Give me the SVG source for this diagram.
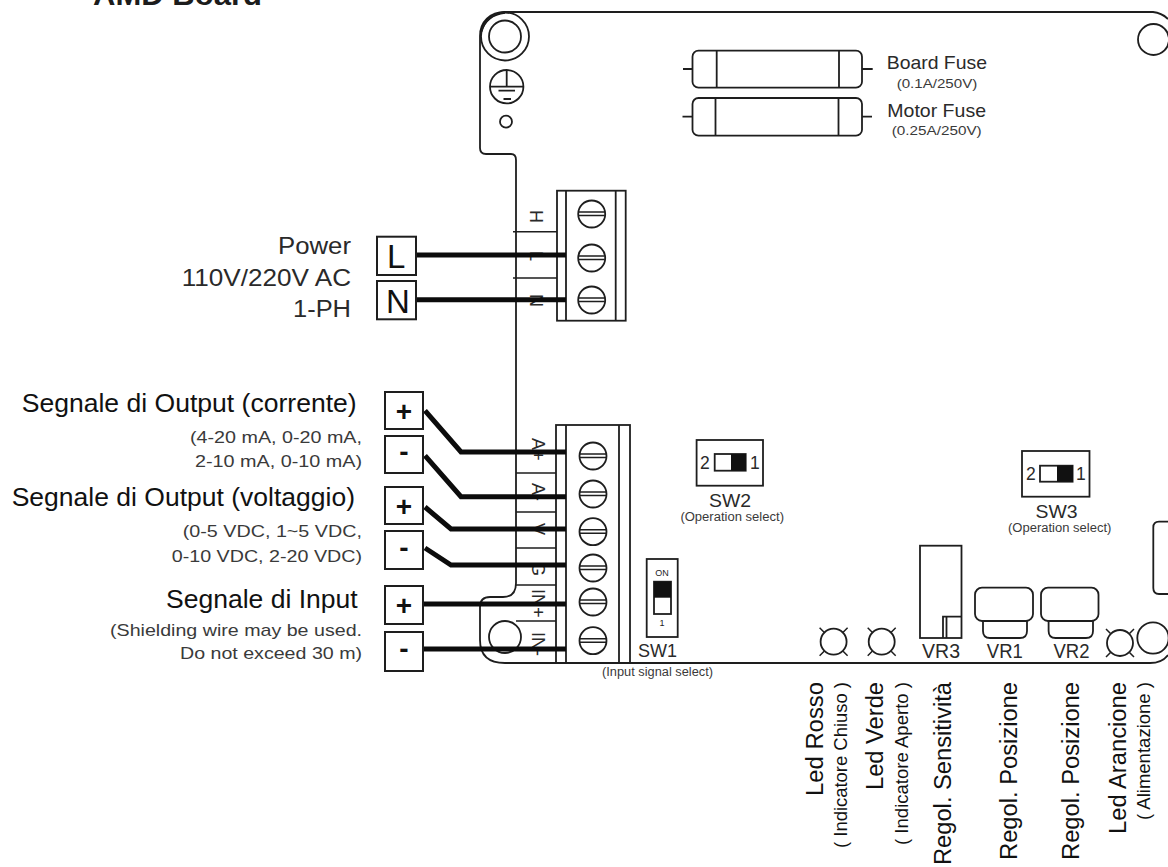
<svg xmlns="http://www.w3.org/2000/svg" width="1168" height="867" viewBox="0 0 1168 867">
<style>
text{font-family:"Liberation Sans",Arial,sans-serif;fill:#1c1c1c}
.l{fill:none;stroke:#1e1e1e;stroke-width:1.8}
.t{fill:none;stroke:#1e1e1e;stroke-width:1.5}
.w{fill:none;stroke:#0c0c0c;stroke-width:5}
.b{fill:#fff;stroke:#1e1e1e;stroke-width:2}
.k{fill:#111}
.h{font-size:25.5px;fill:#111}
.s{font-size:17px;fill:#3a3a3a}
.p{font-size:24.500px;fill:#2a2a2a}
.f{font-size:19px;fill:#2a2a2a}
.fs{font-size:12px;fill:#3a3a3a}
.sw{font-size:17.500px;fill:#2a2a2a}
.vr{font-size:19.500px;fill:#2a2a2a}
.r{font-size:23.500px;fill:#111}
.rs{font-size:18.500px;fill:#111}
.m{font-size:18px;fill:#2a2a2a}
.c{text-anchor:middle}
.pm{font-size:28px;font-weight:700;text-anchor:middle;fill:#111}
.big{font-size:33px;fill:#111}
</style>
<defs>
<g id="screw"><circle class="l" r="13.5"/><path class="t" d="M-13-2H13M-13 1.5H13"/></g>
<g id="led"><circle class="l" r="13"/><path class="t" d="M-9.500-9.500L-14-14M9.500-9.500L14-14M-9.500 9.500L-14 14M9.500 9.500L14 14"/></g>
</defs>
<rect width="1168" height="867" fill="#fff"/>
<text id="title" x="93" y="5" font-size="30" font-weight="700" textLength="169" lengthAdjust="spacingAndGlyphs">AMD Board</text>

<g id="board">
<path class="l" d="M505 12C490 12 480 22 480 36V148Q480 154 486 154H511Q516 154 516 160V583Q516 597 503 597H490Q480 597 480 607V640Q480 663 505 663H1150Q1162 663 1168 655"/>
<path class="l" d="M505 12H1153Q1162 13 1168 19"/>
<path d="M481 32C484 21 492 14 505 12.500" fill="none" stroke="#111" stroke-width="2.500"/>
</g>
<g id="mount-holes">
<circle class="l" cx="505" cy="36.500" r="24"/><circle class="l" cx="505" cy="36.500" r="16"/>
<circle class="l" cx="505" cy="637" r="16"/>
<circle class="l" cx="1153.500" cy="39.500" r="15.500"/>
<circle class="l" cx="1153" cy="638" r="15.700"/>
</g>
<g id="ground">
<circle class="l" cx="506.700" cy="86.700" r="16.700"/>
<path class="l" d="M506.700 70V86.700M490 86.700H523.400M498.500 90.700H515M503.500 99H511"/>
<circle class="l" cx="506" cy="121.700" r="6"/>
</g>

<g id="board-fuse">
<rect class="l" x="692.500" y="50.700" width="169.500" height="37" rx="6"/>
<path class="l" d="M716.700 50.700V87.700M839 50.700V87.700M683 69H692.500M862 69H872.700"/>
<text class="f" x="886.700" y="68.700" textLength="100.300" lengthAdjust="spacingAndGlyphs">Board Fuse</text>
<text class="fs" x="896.700" y="88" textLength="80.600" lengthAdjust="spacingAndGlyphs">(0.1A/250V)</text>
</g>
<g id="motor-fuse">
<rect class="l" x="692.500" y="98" width="169.500" height="37.700" rx="6"/>
<path class="l" d="M715.500 98V135.700M838.500 98V135.700M682.500 116.700H692.500M862 116.700H872"/>
<text class="f" x="887.300" y="116.700" textLength="98.700" lengthAdjust="spacingAndGlyphs">Motor Fuse</text>
<text class="fs" x="891.700" y="135" textLength="90" lengthAdjust="spacingAndGlyphs">(0.25A/250V)</text>
</g>

<g id="terminal-power">
<rect class="l" x="557" y="190.700" width="68.700" height="130"/>
<path class="l" d="M566 190.700V320.700M615.700 190.700V320.700"/>
<path class="t" d="M513 231.700H557M513 278H557"/>
<use href="#screw" x="591.700" y="214"/><use href="#screw" x="591.700" y="258"/><use href="#screw" x="591.700" y="300"/>
<text class="m" transform="translate(530 210) rotate(90)">H</text>
<text class="m" transform="translate(530 251) rotate(90)">L</text>
<text class="m" transform="translate(530 294) rotate(90)">N</text>
</g>

<g id="terminal-signal">
<rect class="l" x="556" y="425" width="74" height="238"/>
<path class="l" d="M566 425V663M619 425V663"/>
<path class="t" d="M516 473H556M516 512H556M516 548H556M516 585H556M516 621H556"/>
<use href="#screw" x="593" y="456"/><use href="#screw" x="593" y="494"/><use href="#screw" x="593" y="531.700"/><use href="#screw" x="593" y="568"/><use href="#screw" x="593" y="602"/><use href="#screw" x="593" y="640.700"/>
<text class="m" transform="translate(532 438) rotate(90)">A+</text>
<text class="m" transform="translate(532 483) rotate(90)">A-</text>
<text class="m" transform="translate(532 523) rotate(90)">V</text>
<text class="m" transform="translate(532 562) rotate(90)">G</text>
<text class="m" transform="translate(532 589) rotate(90)">IN+</text>
<text class="m" transform="translate(532 632) rotate(90)">IN-</text>
</g>

<g id="connectors">
<path class="w" d="M417 255H566"/>
<path class="w" d="M417 299.700H566"/>
<path class="w" d="M425 410.700L461 452H566"/>
<path class="w" d="M425 455.700L461 496.700H566"/>
<path class="w" d="M425 507L451 529H566"/>
<path class="w" d="M425 548L451 565H566"/>
<path class="w" d="M424 604H566"/>
<path class="w" d="M424 649H566"/>
</g>

<g id="power-label">
<text class="p" x="278" y="254" textLength="73" lengthAdjust="spacingAndGlyphs">Power</text>
<text class="p" x="181.700" y="285.700" textLength="169.300" lengthAdjust="spacingAndGlyphs">110V/220V AC</text>
<text class="p" x="293" y="317" textLength="58" lengthAdjust="spacingAndGlyphs">1-PH</text>
</g>
<g id="box-L"><rect class="b" x="377" y="236.700" width="39" height="38.300"/><text class="big" x="387" y="268.300">L</text></g>
<g id="box-N"><rect class="b" x="377" y="281" width="39" height="38.300"/><text class="big" x="386" y="313.300">N</text></g>

<g id="output-current">
<text class="h" x="21.700" y="411.700" textLength="335" lengthAdjust="spacingAndGlyphs">Segnale di Output (corrente)</text>
<text class="s" x="190" y="443" textLength="172" lengthAdjust="spacingAndGlyphs">(4-20 mA, 0-20 mA,</text>
<text class="s" x="195" y="467" textLength="167" lengthAdjust="spacingAndGlyphs">2-10 mA, 0-10 mA)</text>
<rect class="b" x="385" y="392" width="38" height="37"/><text class="pm" x="404" y="421">+</text>
<rect class="b" x="385" y="436" width="38" height="37"/><text class="pm" x="404" y="460.500">-</text>
</g>
<g id="output-voltage">
<text class="h" x="11.700" y="506" textLength="343.300" lengthAdjust="spacingAndGlyphs">Segnale di Output (voltaggio)</text>
<text class="s" x="182.700" y="537" textLength="179.300" lengthAdjust="spacingAndGlyphs">(0-5 VDC, 1~5 VDC,</text>
<text class="s" x="171.700" y="561.700" textLength="190.300" lengthAdjust="spacingAndGlyphs">0-10 VDC, 2-20 VDC)</text>
<rect class="b" x="385" y="487" width="38" height="37"/><text class="pm" x="404" y="516">+</text>
<rect class="b" x="385" y="531" width="38" height="38"/><text class="pm" x="404" y="556.500">-</text>
</g>
<g id="input-signal">
<text class="h" x="166" y="608" textLength="191.700" lengthAdjust="spacingAndGlyphs">Segnale di Input</text>
<text class="s" x="110" y="636" textLength="252" lengthAdjust="spacingAndGlyphs">(Shielding wire may be used.</text>
<text class="s" x="180" y="659" textLength="182" lengthAdjust="spacingAndGlyphs">Do not exceed 30 m)</text>
<rect class="b" x="385" y="586" width="38" height="38"/><text class="pm" x="404" y="615">+</text>
<rect class="b" x="385" y="632" width="38" height="39"/><text class="pm" x="404" y="658">-</text>
</g>

<g id="sw1">
<rect class="l" x="646.700" y="559" width="31" height="78"/>
<text class="c" x="662" y="576" font-size="9" fill="#333">ON</text>
<rect class="l" x="654" y="581.700" width="17" height="32.300"/>
<rect class="k" x="654" y="581.700" width="17" height="16"/>
<text class="c" x="662" y="626" font-size="9">1</text>
<text class="sw" x="638" y="657" textLength="39" lengthAdjust="spacingAndGlyphs">SW1</text>
<text class="fs" x="602" y="676" textLength="111" lengthAdjust="spacingAndGlyphs">(Input signal select)</text>
</g>
<g id="sw2">
<rect class="l" x="696.600" y="440" width="66.400" height="45.700"/>
<rect class="l" x="714.700" y="454" width="31" height="16.700"/>
<rect class="k" x="731" y="454" width="15" height="16.700"/>
<text class="sw" x="700" y="469">2</text><text class="sw" x="750" y="469">1</text>
<text class="sw" x="709" y="507" textLength="42" lengthAdjust="spacingAndGlyphs">SW2</text>
<text class="fs" x="680.400" y="520.700" textLength="103.600" lengthAdjust="spacingAndGlyphs">(Operation select)</text>
</g>
<g id="sw3">
<rect class="l" x="1022" y="451" width="67.500" height="45.700"/>
<rect class="l" x="1040" y="465.700" width="32.600" height="16"/>
<rect class="k" x="1057" y="465.700" width="16" height="16"/>
<text class="sw" x="1026" y="480">2</text><text class="sw" x="1076" y="480">1</text>
<text class="sw" x="1035.600" y="518" textLength="42" lengthAdjust="spacingAndGlyphs">SW3</text>
<text class="fs" x="1008" y="531.700" textLength="103.400" lengthAdjust="spacingAndGlyphs">(Operation select)</text>
</g>

<g id="led-red"><use href="#led" x="833.600" y="641.700"/></g>
<g id="led-green"><use href="#led" x="881.700" y="641.700"/></g>
<g id="led-orange"><use href="#led" x="1120" y="643"/></g>

<g id="vr3">
<rect class="l" x="920" y="545.700" width="41.500" height="92.300"/>
<path class="l" d="M943 638V616.700H961.500M946.500 616.700V638"/>
<text class="vr" x="922" y="657.700" textLength="38" lengthAdjust="spacingAndGlyphs">VR3</text>
</g>
<g id="vr1">
<rect class="l" x="975" y="587.700" width="58" height="33.300" rx="7"/>
<path class="l" d="M983 621V631Q983 638 990 638H1020Q1027 638 1027 631V621"/>
<text class="vr" x="986.800" y="657.700" textLength="36" lengthAdjust="spacingAndGlyphs">VR1</text>
</g>
<g id="vr2">
<rect class="l" x="1041" y="587.700" width="57.500" height="33.300" rx="7"/>
<path class="l" d="M1048.600 621V631Q1048.600 638 1055.600 638H1086Q1093 638 1093 631V621"/>
<text class="vr" x="1053.500" y="657.700" textLength="36" lengthAdjust="spacingAndGlyphs">VR2</text>
</g>
<g id="connector-block"><path class="l" d="M1168 521.700H1159Q1153.300 521.700 1153.300 527.500V588Q1153.300 594 1159 594H1168"/></g>

<g id="bottom-labels">
<text class="r" transform="translate(823 796) rotate(-90)" textLength="114" lengthAdjust="spacingAndGlyphs">Led Rosso</text>
<text class="rs" transform="translate(847 848) rotate(-90)" textLength="166" lengthAdjust="spacingAndGlyphs">( Indicatore Chiuso )</text>
<text class="r" transform="translate(883 790) rotate(-90)" textLength="108" lengthAdjust="spacingAndGlyphs">Led Verde</text>
<text class="rs" transform="translate(907.700 845) rotate(-90)" textLength="163" lengthAdjust="spacingAndGlyphs">( Indicatore Aperto )</text>
<text class="r" transform="translate(950.700 865) rotate(-90)" textLength="183" lengthAdjust="spacingAndGlyphs">Regol. Sensitività</text>
<text class="r" transform="translate(1016.700 860) rotate(-90)" textLength="178" lengthAdjust="spacingAndGlyphs">Regol. Posizione</text>
<text class="r" transform="translate(1079.300 860) rotate(-90)" textLength="178" lengthAdjust="spacingAndGlyphs">Regol. Posizione</text>
<text class="r" transform="translate(1125.700 834) rotate(-90)" textLength="152" lengthAdjust="spacingAndGlyphs">Led Arancione</text>
<text class="rs" transform="translate(1150 820) rotate(-90)" textLength="138" lengthAdjust="spacingAndGlyphs">( Alimentazione )</text>
</g>
</svg>
